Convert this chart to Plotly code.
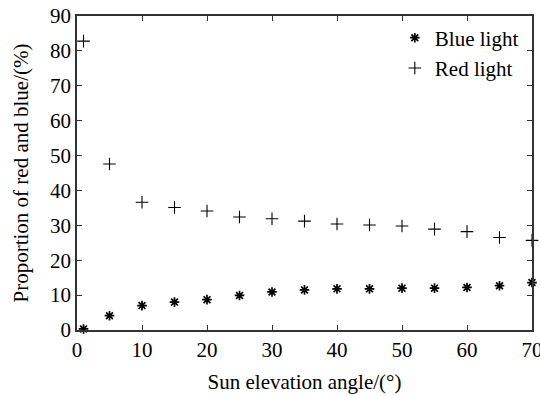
import plotly.graph_objects as go

angles = [1, 5, 10, 15, 20, 25, 30, 35, 40, 45, 50, 55, 60, 65, 70]
blue = [0.3, 4.1, 7.0, 8.0, 8.7, 9.9, 10.9, 11.5, 11.8, 11.8, 12.0, 12.0, 12.2, 12.7, 13.6]
red = [82.8, 47.6, 36.6, 35.1, 34.1, 32.4, 31.9, 31.2, 30.4, 30.1, 29.8, 28.9, 28.2, 26.5, 25.7]

font = dict(family="Liberation Serif", size=21, color="black")

fig = go.Figure()
fig.add_trace(go.Scatter(
    x=angles, y=blue, mode="markers", name="Blue light",
    marker=dict(symbol="asterisk-open", size=8, color="black", line=dict(width=1.7, color="black")),
    cliponaxis=False))
fig.add_trace(go.Scatter(
    x=angles, y=red, mode="markers", name="Red light",
    marker=dict(symbol="cross-thin-open", size=9, color="black", line=dict(width=1.1, color="black")),
    cliponaxis=False))

axis_common = dict(showline=True, linecolor="#333", linewidth=1.5, mirror="ticks",
                   ticks="inside", ticklen=5, tickcolor="#333", showgrid=False,
                   zeroline=False, tickfont=font, automargin=False,
                   ticklabeloverflow="allow")
fig.update_layout(
    width=540, height=396,
    margin=dict(l=77, r=8, t=16, b=66),
    plot_bgcolor="white", paper_bgcolor="white",
    font=font,
    xaxis=dict(range=[0, 70], dtick=10, title=dict(text="Sun elevation angle/(°)", font=font, standoff=13), **axis_common),
    yaxis=dict(range=[0, 90], dtick=10, title=dict(text="Proportion of red and blue/(%)", font=font, standoff=16), **axis_common),
    legend=dict(x=0.982, y=0.995, xanchor="right", yanchor="top", bgcolor="rgba(0,0,0,0)",
                font=font, itemsizing="trace", tracegroupgap=0, itemwidth=30),
    showlegend=True,
)
fig.write_html("out.html", config={"displayModeBar": False},
               post_script="document.body.style.margin='0';document.body.style.overflow='hidden';")
